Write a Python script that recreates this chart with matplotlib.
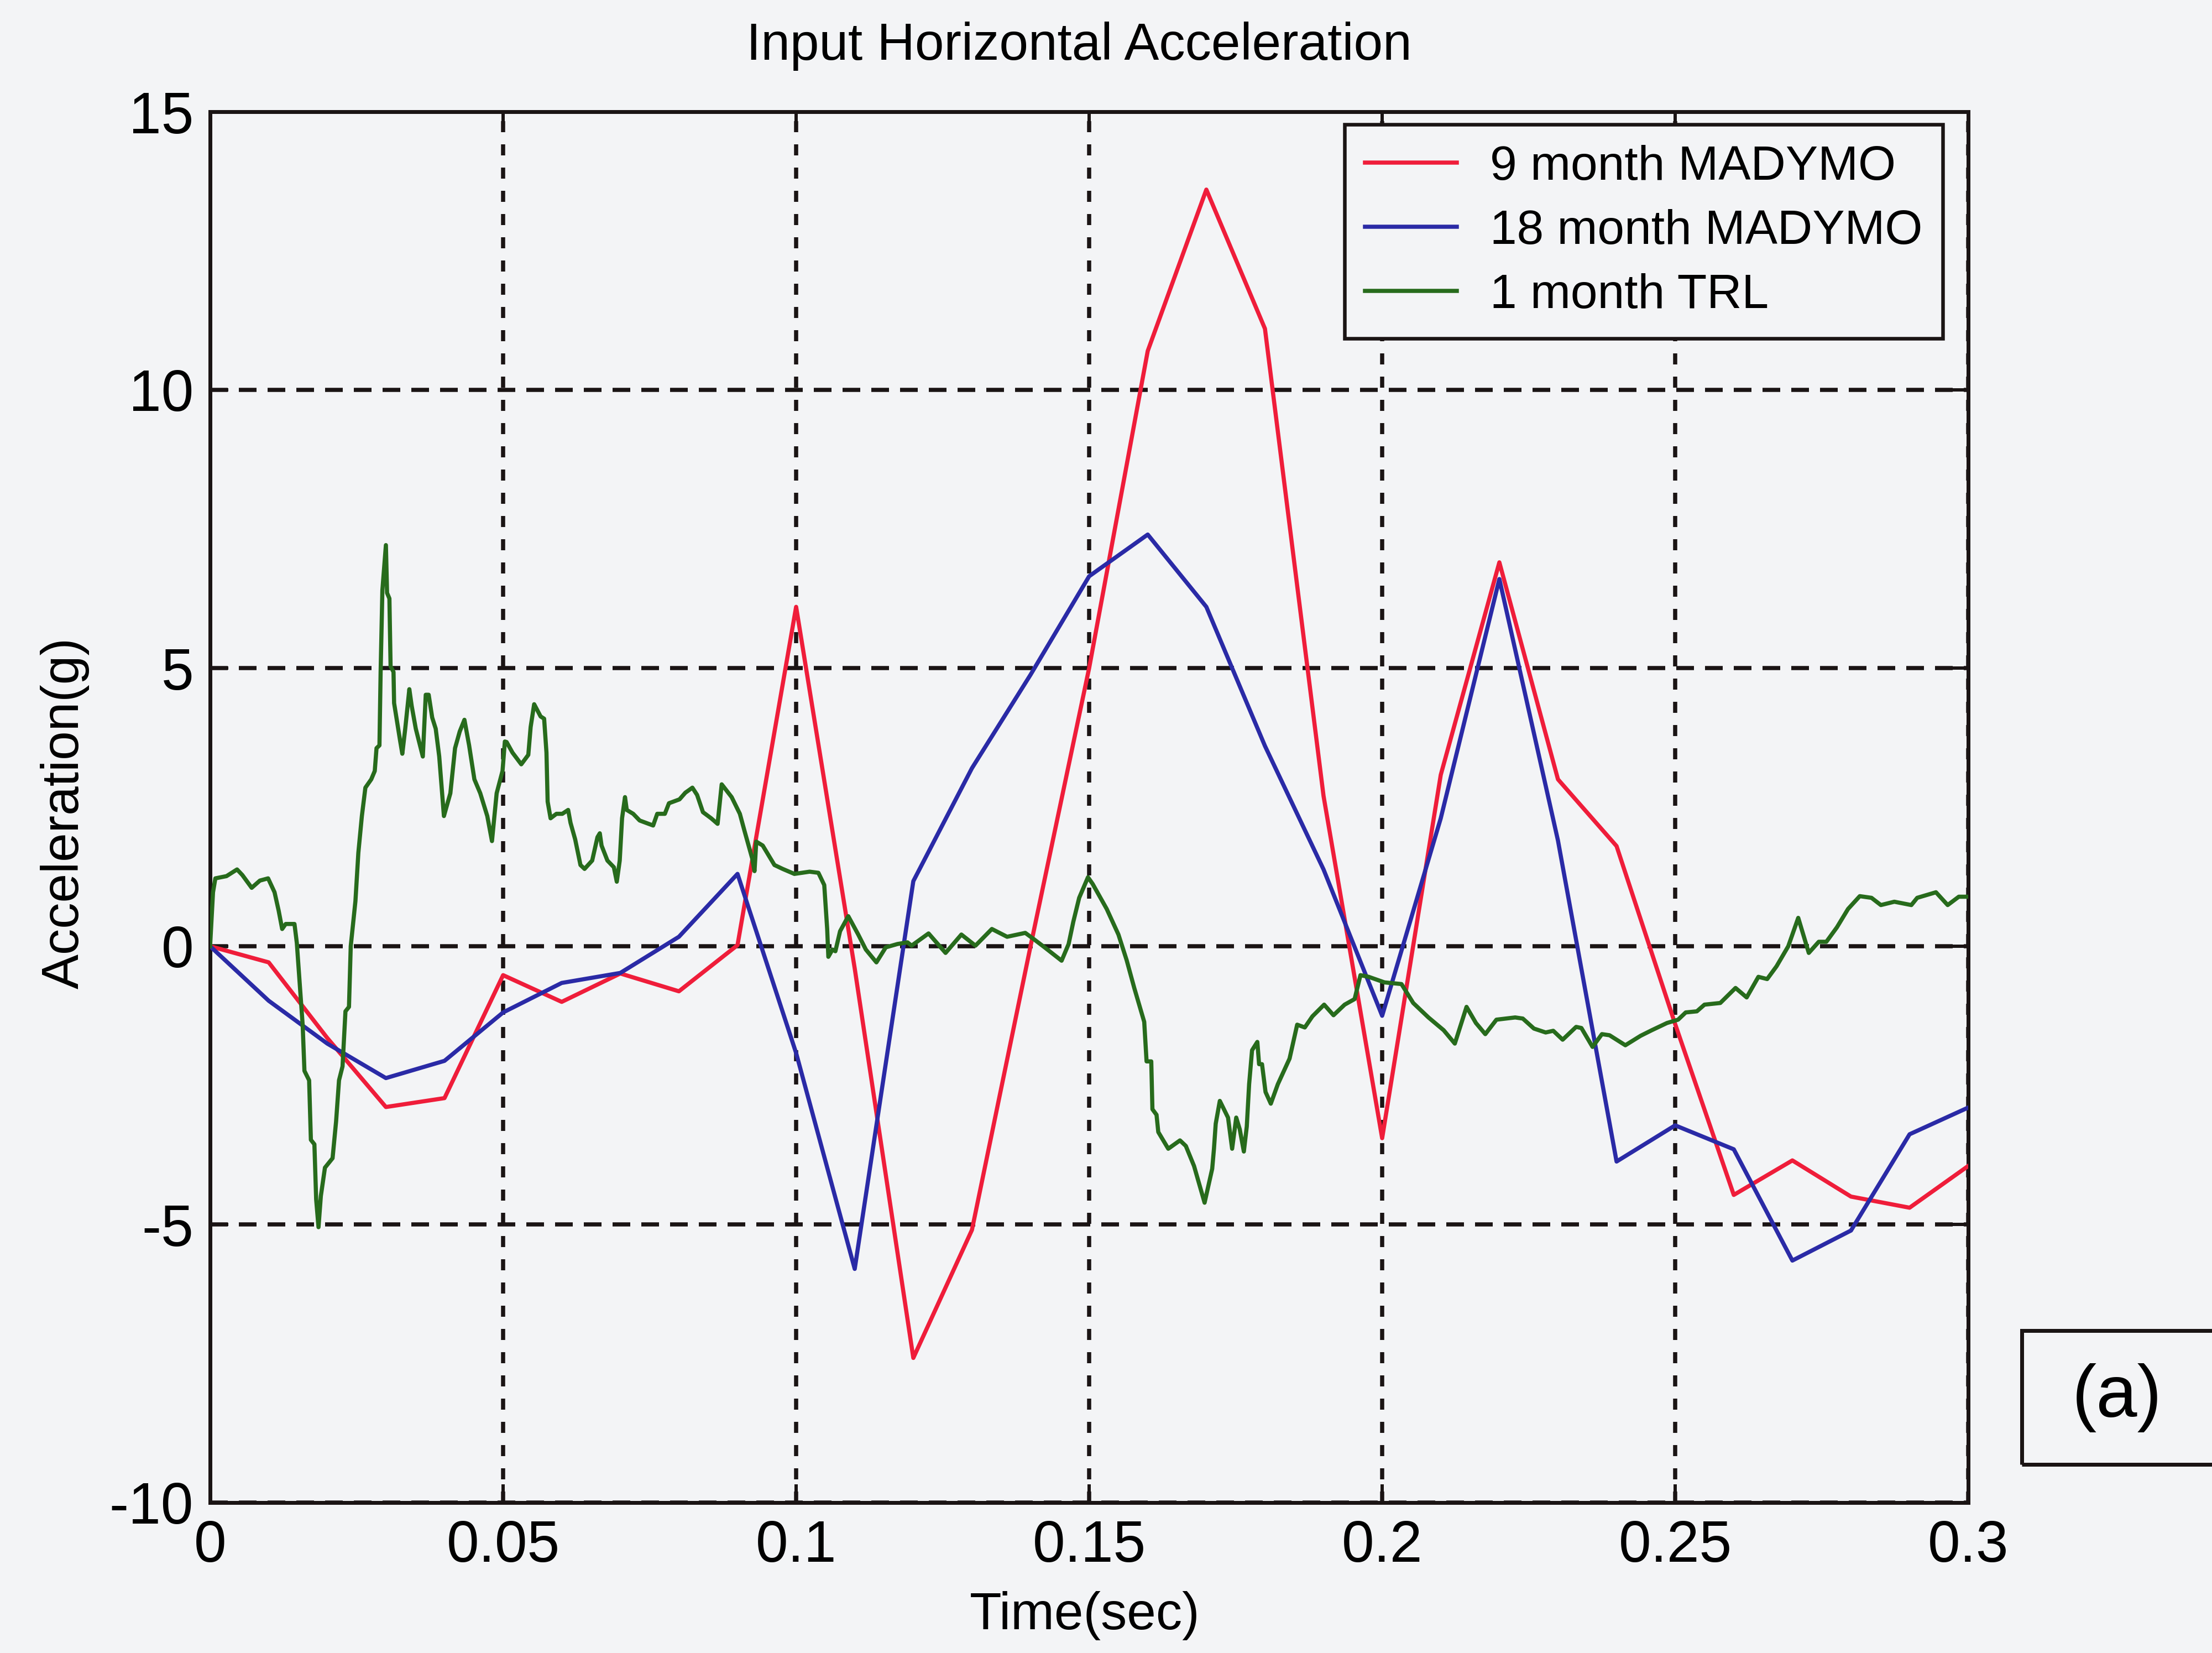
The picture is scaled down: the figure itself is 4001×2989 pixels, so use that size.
import matplotlib
matplotlib.use("Agg")
import matplotlib.pyplot as plt
from matplotlib.patches import Rectangle

# ---- data ----------------------------------------------------------------
time_madymo = [0.00, 0.01, 0.02, 0.03, 0.04, 0.05, 0.06, 0.07, 0.08, 0.09,
               0.10, 0.11, 0.12, 0.13, 0.14, 0.15, 0.16, 0.17, 0.18, 0.19,
               0.20, 0.21, 0.22, 0.23, 0.24, 0.25, 0.26, 0.27, 0.28, 0.29, 0.30]

acc_9month = [0.00, -0.29, -1.65, -2.89, -2.73, -0.52, -1.00, -0.49, -0.81, 0.02,
              6.10, -0.40, -7.40, -5.10, 0.00, 5.00, 10.70, 13.60, 11.10, 2.70,
              -3.45, 3.08, 6.90, 3.00, 1.80, -1.40, -4.47, -3.85, -4.50, -4.70, -3.95]

acc_18month = [0.00, -0.98, -1.75, -2.37, -2.06, -1.19, -0.66, -0.48, 0.17, 1.30,
               -1.92, -5.80, 1.17, 3.20, 4.88, 6.65, 7.40, 6.10, 3.60, 1.38,
               -1.25, 2.30, 6.60, 1.90, -3.87, -3.22, -3.65, -5.65, -5.11, -3.38, -2.90]

time_trl = [0.0000, 0.0005, 0.0009, 0.0028, 0.0046, 0.0055, 0.0071, 0.0085, 0.0099, 0.0110,
            0.0117, 0.0123, 0.0129, 0.0144, 0.0148, 0.0153, 0.0158, 0.0161, 0.0169, 0.0172,
            0.0178, 0.0181, 0.0185, 0.0189, 0.0196, 0.0209, 0.0215, 0.0220, 0.0226, 0.0231,
            0.0237, 0.0240, 0.0248, 0.0253, 0.0259, 0.0265, 0.0275, 0.0281, 0.0284, 0.0289,
            0.0291, 0.0294, 0.0300, 0.0302, 0.0306, 0.0308, 0.0313, 0.0314, 0.0324, 0.0328,
            0.0333, 0.0340, 0.0344, 0.0351, 0.0363, 0.0368, 0.0373, 0.0379, 0.0385, 0.0391,
            0.0399, 0.0410, 0.0418, 0.0426, 0.0434, 0.0442, 0.0451, 0.0461, 0.0473, 0.0481,
            0.0489, 0.0499, 0.0503, 0.0506, 0.0516, 0.0531, 0.0543, 0.0547, 0.0553, 0.0564,
            0.0570, 0.0574, 0.0576, 0.0581, 0.0591, 0.0601, 0.0611, 0.0615, 0.0623, 0.0632,
            0.0639, 0.0652, 0.0661, 0.0665, 0.0668, 0.0678, 0.0689, 0.0694, 0.0699, 0.0703,
            0.0708, 0.0711, 0.0722, 0.0733, 0.0756, 0.0763, 0.0776, 0.0783, 0.0801, 0.0811,
            0.0823, 0.0831, 0.0841, 0.0855, 0.0866, 0.0873, 0.0876, 0.0890, 0.0904, 0.0912,
            0.0921, 0.0925, 0.0929, 0.0932, 0.0943, 0.0963, 0.0977, 0.0997, 0.1023, 0.1038,
            0.1048, 0.1053, 0.1055, 0.1062, 0.1067, 0.1075, 0.1089, 0.1106, 0.1119, 0.1137,
            0.1153, 0.1173, 0.1190, 0.1197, 0.1226, 0.1255, 0.1282, 0.1306, 0.1334, 0.1360,
            0.1391, 0.1404, 0.1424, 0.1453, 0.1465, 0.1473, 0.1483, 0.1498, 0.1506, 0.1530,
            0.1550, 0.1564, 0.1577, 0.1594, 0.1598, 0.1606, 0.1608, 0.1615, 0.1618, 0.1635,
            0.1655, 0.1665, 0.1679, 0.1697, 0.1710, 0.1713, 0.1716, 0.1723, 0.1730, 0.1737,
            0.1744, 0.1751, 0.1757, 0.1764, 0.1769, 0.1773, 0.1778, 0.1787, 0.1790, 0.1795,
            0.1801, 0.1810, 0.1822, 0.1842, 0.1855, 0.1868, 0.1881, 0.1901, 0.1917, 0.1936,
            0.1953, 0.1963, 0.1977, 0.2004, 0.2033, 0.2053, 0.2079, 0.2105, 0.2124, 0.2144,
            0.2160, 0.2176, 0.2195, 0.2227, 0.2240, 0.2259, 0.2279, 0.2292, 0.2308, 0.2331,
            0.2340, 0.2359, 0.2375, 0.2388, 0.2415, 0.2441, 0.2460, 0.2486, 0.2505, 0.2518,
            0.2537, 0.2550, 0.2577, 0.2603, 0.2622, 0.2642, 0.2657, 0.2673, 0.2693, 0.2710,
            0.2728, 0.2745, 0.2758, 0.2776, 0.2795, 0.2815, 0.2835, 0.2851, 0.2874, 0.2903,
            0.2913, 0.2945, 0.2965, 0.2984, 0.3000]

acc_trl = [0.00, 0.97, 1.22, 1.26, 1.38, 1.28, 1.05, 1.18, 1.22, 0.97,
           0.64, 0.31, 0.40, 0.40, 0.06, -0.68, -1.42, -2.24, -2.41, -3.48,
           -3.56, -4.55, -5.05, -4.49, -3.98, -3.81, -3.15, -2.41, -2.16, -1.17,
           -1.09, 0.00, 0.81, 1.68, 2.34, 2.85, 3.00, 3.15, 3.56, 3.61,
           4.93, 6.40, 7.21, 6.35, 6.25, 5.03, 4.93, 4.37, 3.71, 3.46,
           3.91, 4.62, 4.32, 3.91, 3.41, 4.52, 4.52, 4.11, 3.91, 3.41,
           2.34, 2.75, 3.56, 3.86, 4.07, 3.61, 3.00, 2.75, 2.34, 1.89,
           2.75, 3.15, 3.68, 3.67, 3.48, 3.27, 3.44, 3.94, 4.35, 4.13,
           4.09, 3.48, 2.60, 2.30, 2.38, 2.38, 2.45, 2.22, 1.92, 1.46,
           1.39, 1.54, 1.96, 2.03, 1.81, 1.54, 1.42, 1.16, 1.54, 2.30,
           2.68, 2.45, 2.38, 2.26, 2.17, 2.38, 2.38, 2.57, 2.64, 2.76,
           2.85, 2.72, 2.41, 2.30, 2.20, 2.91, 2.87, 2.68, 2.38, 2.07,
           1.73, 1.58, 1.35, 1.88, 1.81, 1.46, 1.39, 1.30, 1.34, 1.32,
           1.10, 0.31, -0.19, -0.06, -0.09, 0.27, 0.54, 0.21, -0.06, -0.29,
           -0.02, 0.04, 0.07, 0.01, 0.23, -0.12, 0.21, 0.01, 0.31, 0.17,
           0.24, 0.14, -0.02, -0.26, 0.04, 0.44, 0.87, 1.24, 1.12, 0.67,
           0.21, -0.25, -0.75, -1.36, -2.07, -2.07, -2.93, -3.03, -3.34, -3.64,
           -3.49, -3.59, -3.95, -4.61, -4.00, -3.64, -3.19, -2.78, -2.93, -3.08,
           -3.64, -3.08, -3.29, -3.69, -3.24, -2.48, -1.87, -1.72, -2.12, -2.12,
           -2.62, -2.83, -2.48, -2.02, -1.41, -1.46, -1.26, -1.05, -1.24, -1.05,
           -0.95, -0.52, -0.55, -0.65, -0.68, -1.02, -1.28, -1.51, -1.75, -1.09,
           -1.38, -1.58, -1.32, -1.28, -1.30, -1.48, -1.55, -1.52, -1.68, -1.45,
           -1.47, -1.81, -1.58, -1.60, -1.78, -1.61, -1.51, -1.38, -1.32, -1.19,
           -1.17, -1.05, -1.02, -0.75, -0.92, -0.55, -0.59, -0.36, 0.00, 0.51,
           -0.12, 0.08, 0.08, 0.34, 0.67, 0.90, 0.87, 0.74, 0.80, 0.74,
           0.87, 0.97, 0.74, 0.89, 0.89]

series_labels = ["9 month MADYMO", "18 month MADYMO", "1 month TRL"]
x_ticks = [0, 0.05, 0.1, 0.15, 0.2, 0.25, 0.3]
x_tick_labels = ["0", "0.05", "0.1", "0.15", "0.2", "0.25", "0.3"]
y_ticks = [-10, -5, 0, 5, 10, 15]
y_tick_labels = ["-10", "-5", "0", "5", "10", "15"]

# ---- styling -------------------------------------------------------------
W, H = 4001, 2989
DPI = 100
PX = 72.0 / DPI          # points per pixel
BG = "#f3f4f6"
INK = "#1a1414"
FONT = "Liberation Sans"

plt.rcParams["font.family"] = [FONT, "DejaVu Sans"]

fig = plt.figure(figsize=(W / DPI, H / DPI), dpi=DPI, facecolor=BG)
ax = fig.add_axes([380 / W, 1 - 2717 / H, 3180 / W, 2515 / H], facecolor=BG)

line_w = 7.5 * PX
ax.plot(time_madymo, acc_9month, color="#ef1d3a", lw=line_w, label=series_labels[0], zorder=3)
ax.plot(time_madymo, acc_18month, color="#2a2aa6", lw=line_w, label=series_labels[1], zorder=3)
ax.plot(time_trl, acc_trl, color="#276b1c", lw=line_w, label=series_labels[2], zorder=3)

ax.set_xlim(0, 0.3)
ax.set_ylim(-10, 15)
ax.set_xticks(x_ticks)
ax.set_xticklabels(x_tick_labels)
ax.set_yticks(y_ticks)
ax.set_yticklabels(y_tick_labels)

tick_fs = 76
ax.tick_params(axis="both", which="major", direction="in", length=33 * PX,
               width=6 * PX, color=INK, labelsize=tick_fs,
               top=True, right=True, pad=30 * PX)

# dashed grid, MATLAB-like
grid_w = 7.5 * PX
ax.xaxis.grid(True, color=INK, lw=grid_w, linestyle=(0, (20 / 7.5, 22 / 7.5)), zorder=1)
ax.yaxis.grid(True, color=INK, lw=grid_w, linestyle=(0, (32 / 7.5, 20 / 7.5)), zorder=1)

for s in ax.spines.values():
    s.set_linewidth(7 * PX)
    s.set_color(INK)

# axis texts
label_fs = 68
fig.text(1952 / W, 1 - 84 / H, "Input Horizontal Acceleration", fontsize=68,
         ha="center", va="center")
fig.text(1962 / W, 1 - 2922 / H, "Time(sec)", fontsize=label_fs, ha="center", va="center")
fig.text(117 / W, 1 - 1470 / H, "Acceleration(g)", fontsize=label_fs, ha="center",
         va="center", rotation=90)

leg_fs = 63
leg = ax.legend(loc="upper right", bbox_to_anchor=((3514 - 380) / 3180, 1 - (225 - 202) / 2515),
                borderaxespad=0, fontsize=leg_fs, frameon=True, fancybox=False,
                handlelength=1.9, handletextpad=0.68, labelspacing=0.4,
                borderpad=0.42, framealpha=1)
leg.get_frame().set_edgecolor(INK)
leg.get_frame().set_linewidth(6.5 * PX)
leg.get_frame().set_facecolor(BG)

# panel tag box
fig.add_artist(Rectangle((3657 / W, 1 - 2648 / H), 0.2, (2648 - 2406) / H,
                         transform=fig.transFigure, fill=False, lw=7 * PX,
                         edgecolor=INK))
fig.text(3829 / W, 1 - 2527 / H, "(a)", fontsize=96, ha="center", va="center")

fig.savefig("out.png", dpi=DPI, facecolor=BG)
